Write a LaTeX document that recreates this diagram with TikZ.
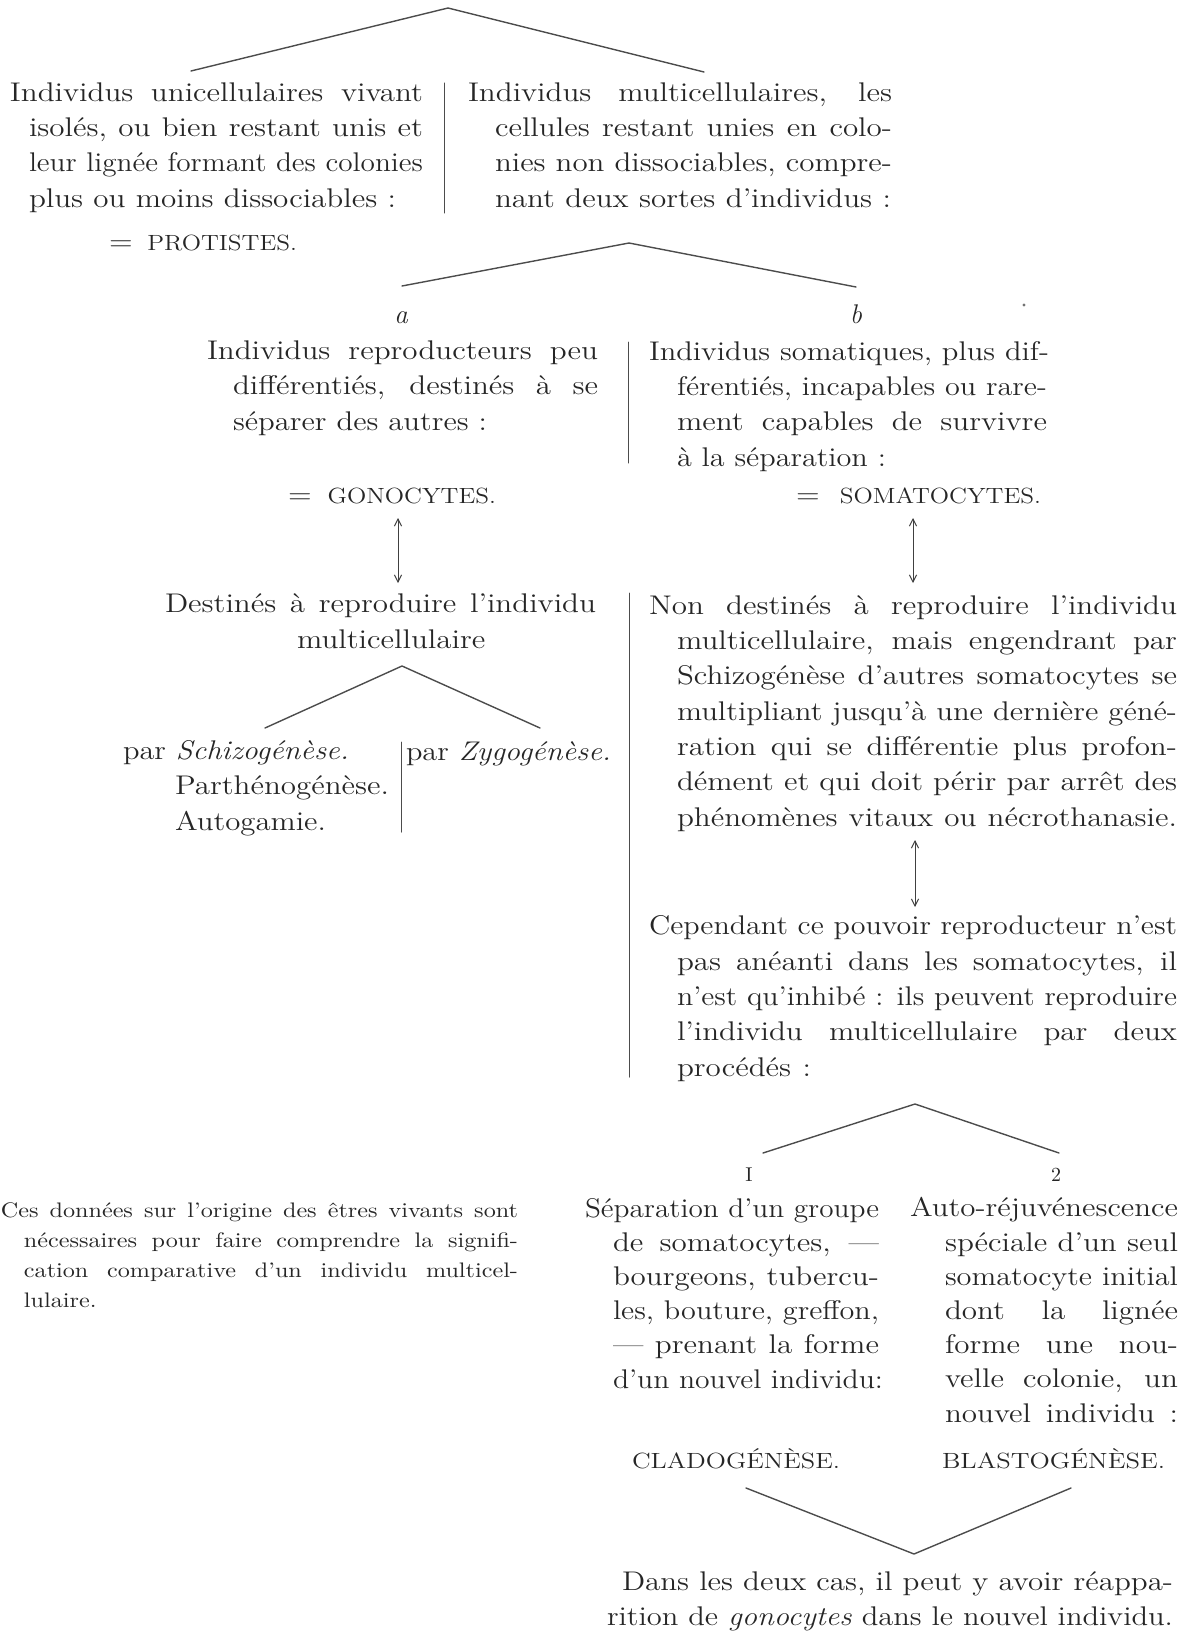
\documentclass[tikz,border=0pt]{standalone}
\usepackage{graphicx}
\usepackage{tikz}
\usetikzlibrary{arrows.meta}

% justified line: widths as printed, letters wider than Latin Modern
\newlength\jlw
\newcommand\jl[2]{%
  \settowidth\jlw{#2}%
  \ifdim\dimexpr\jlw*115/100\relax<\dimexpr#1\relax
    \resizebox{#1}{\height}{\makebox[\dimexpr#1*100/115\relax][s]{#2}}%
  \else
    \resizebox{#1}{\height}{#2}%
  \fi}
\newcommand\jword[2]{\resizebox{#1}{\height}{#2}}
\newcommand\capsize{\fontsize{11}{12}\selectfont}

\begin{document}
\begin{tikzpicture}[x=0.5pt,y=-0.5pt,line cap=round,line join=round,
  >={Straight Barb[length=3.5pt,width=3.6pt]},
  txt/.style={anchor=base west,inner sep=0pt,outer sep=0pt,align=left,text=black!85,font=\fontsize{13.5}{17.65}\selectfont},
  tight/.style={txt,font=\fontsize{13.5}{17.1}\selectfont},
  note/.style={txt,font=\fontsize{10.5}{15}\selectfont},
  lbl/.style={anchor=base,inner sep=0pt,outer sep=0pt,text=black!85,font=\fontsize{13.5}{16}\selectfont\itshape},
  num/.style={anchor=base,inner sep=0pt,outer sep=0pt,text=black!85,font=\fontsize{10}{12}\selectfont},
  brace/.style={line width=0.7pt,draw=black!70},
  rule/.style={line width=0.5pt,draw=black!70},
  link/.style={<->,line width=0.5pt,draw=black!75}]

\useasboundingbox (0,0) rectangle (1191,1632);

% first fork (nodes sit on the baseline of their last line)
\coordinate (f1) at (448,8);
\coordinate (f1l) at (191,71);
\coordinate (f1r) at (704,72);
\draw[brace] (f1l) -- (f1) -- (f1r);

\node[txt] (unic) at (10,207) {\jl{206.5pt}{Individus unicellulaires vivant}\\
  \hspace*{9.5pt}\jl{197pt}{isolés, ou bien restant unis et}\\
  \hspace*{9.5pt}\jl{197pt}{leur lignée formant des colonies}\\
  \hspace*{9.5pt}\jl{183.5pt}{plus ou moins dissociables :}};
\coordinate (s1t) at (444,83);
\coordinate (s1b) at (444,213);
\draw[rule] (s1t) -- (s1b);
\node[txt] (multi) at (468,207) {\jl{212pt}{Individus multicellulaires, les}\\
  \hspace*{13.5pt}\jl{198.5pt}{cellules restant unies en colo-}\\
  \hspace*{13.5pt}\jl{198.5pt}{nies non dissociables, compre-}\\
  \hspace*{13.5pt}\jl{198pt}{nant deux sortes d’individus :}};
\node[txt] (prot) at (109,250) {\jl{94pt}{= {\capsize PROTISTES.}}};

% second fork
\coordinate (f2) at (629,243);
\coordinate (f2l) at (402,286);
\coordinate (f2r) at (856,287);
\draw[brace] (f2l) -- (f2) -- (f2r);
\node[lbl] (la) at (401,323) {a};
\node[lbl] (lb) at (856,323) {b};
\fill[black!55] (1024,305) circle (1.6);

\node[txt] (repro) at (207,430) {\jl{195.5pt}{Individus reproducteurs peu}\\
  \hspace*{13pt}\jl{182.5pt}{différentiés, destinés à se}\\
  \hspace*{13pt}\jl{127pt}{séparer des autres :}};
\coordinate (s2t) at (628,342);
\coordinate (s2b) at (628,463);
\draw[rule] (s2t) -- (s2b);
\node[txt] (soma) at (649,466) {\jl{200pt}{Individus somatiques, plus dif-}\\
  \hspace*{14pt}\jl{185pt}{férentiés, incapables ou rare-}\\
  \hspace*{14pt}\jl{185pt}{ment capables de survivre}\\
  \hspace*{14pt}\jl{104.5pt}{à la séparation :}};
\node[txt] (gono) at (288,503) {\jl{104pt}{= {\capsize GONOCYTES.}}};
\node[txt] (somato) at (796,503) {\jl{122.5pt}{= {\capsize SOMATOCYTES.}}};

% double arrows
\coordinate (ga1) at (398,518);
\coordinate (ga2) at (398,583);
\draw[link] (ga1) -- (ga2);
\coordinate (sa1) at (913,518);
\coordinate (sa2) at (913,583);
\draw[link] (sa1) -- (sa2);

\node[txt] (dest) at (165,648) {\jl{215.5pt}{Destinés à reproduire l’individu}\\
  \hspace*{66pt}\jl{95pt}{multicellulaire}};
\coordinate (f3) at (402,666);
\coordinate (f3l) at (265,728);
\coordinate (f3r) at (540,728);
\draw[brace] (f3l) -- (f3) -- (f3r);
\node[txt] (schizo) at (123,830) {\jl{113pt}{par \emph{Schizogénèse.}}\\
  \hspace*{26pt}\jl{107pt}{Parthénogénèse.}\\
  \hspace*{26pt}\jl{75.5pt}{Autogamie.}};
\coordinate (s3t) at (401,742);
\coordinate (s3b) at (401,832);
\draw[rule] (s3t) -- (s3b);
\node[txt] (zygo) at (406,760) {\jl{102.5pt}{par \emph{Zygogénèse.}}};

\coordinate (s4t) at (629,593);
\coordinate (s4b) at (629,1077);
\draw[rule] (s4t) -- (s4b);
\node[txt] (nondest) at (649,826) {\jl{264pt}{Non destinés à reproduire l’individu}\\
  \hspace*{14pt}\jl{250pt}{multicellulaire, mais engendrant par}\\
  \hspace*{14pt}\jl{250pt}{Schizogénèse d’autres somatocytes se}\\
  \hspace*{14pt}\jl{250pt}{multipliant jusqu’à une dernière géné-}\\
  \hspace*{14pt}\jl{250pt}{ration qui se différentie plus profon-}\\
  \hspace*{14pt}\jl{250pt}{dément et qui doit périr par arrêt des}\\
  \hspace*{14pt}\jl{250pt}{phénomènes vitaux ou nécrothanasie.}};
\coordinate (na1) at (915,840);
\coordinate (na2) at (915,907);
\draw[link] (na1) -- (na2);
\node[txt] (cepend) at (649,1076) {\jl{264pt}{Cependant ce pouvoir reproducteur n’est}\\
  \hspace*{14pt}\jl{250pt}{pas anéanti dans les somatocytes, il}\\
  \hspace*{14pt}\jl{250pt}{n’est qu’inhibé : ils peuvent reproduire}\\
  \hspace*{14pt}\jl{250pt}{l’individu multicellulaire par deux}\\
  \hspace*{14pt}\jl{67pt}{procédés :}};

% third level
\coordinate (f4) at (915,1104);
\coordinate (f4l) at (763,1153);
\coordinate (f4r) at (1059,1153);
\draw[brace] (f4l) -- (f4) -- (f4r);
\node[num] (n1) at (749,1181) {I};
\node[num] (n2) at (1056,1181) {2};

\node[note] (remark) at (1,1307) {\jl{258.5pt}{Ces données sur l’origine des êtres vivants sont}\\
  \hspace*{11.5pt}\jl{247pt}{nécessaires pour faire comprendre la signifi-}\\
  \hspace*{11.5pt}\jl{247pt}{cation comparative d’un individu multicel-}\\
  \hspace*{11.5pt}\jl{40pt}{lulaire.}};

\node[tight] (separ) at (585,1388) {\jl{147pt}{Séparation d’un groupe}\\
  \hspace*{14pt}\jl{133pt}{de somatocytes, —}\\
  \hspace*{14pt}\jl{133pt}{bourgeons, tubercu-}\\
  \hspace*{14pt}\jl{133pt}{les, bouture, greffon,}\\
  \hspace*{14pt}\jl{133pt}{— prenant la forme}\\
  \hspace*{14pt}\jl{135pt}{d’un nouvel individu:}};
\node[tight] (autorej) at (910,1422) {\jword{134pt}{Auto-réjuvénescence}\\
  \hspace*{17.5pt}\jl{116.5pt}{spéciale d’un seul}\\
  \hspace*{17.5pt}\jl{116.5pt}{somatocyte initial}\\
  \hspace*{17.5pt}\jl{116.5pt}{dont la lignée}\\
  \hspace*{17.5pt}\jl{116.5pt}{forme une nou-}\\
  \hspace*{17.5pt}\jl{116.5pt}{velle colonie, un}\\
  \hspace*{17.5pt}\jl{116.5pt}{nouvel individu :}};
\node[txt] (clado) at (632,1468) {\jword{104pt}{\capsize CLADOGÉNÈSE.}};
\node[txt] (blasto) at (942,1468) {\jword{111.5pt}{\capsize BLASTOGÉNÈSE.}};

% last fork
\coordinate (f5l) at (746,1488);
\coordinate (f5) at (914,1554);
\coordinate (f5r) at (1071,1488);
\draw[brace] (f5l) -- (f5) -- (f5r);
\node[tight] (reapp) at (607,1625) {\hspace*{7.5pt}\jl{275.5pt}{Dans les deux cas, il peut y avoir réappa-}\\
  \jl{283pt}{rition de \emph{gonocytes} dans le nouvel individu.}};
\end{tikzpicture}
\end{document}
